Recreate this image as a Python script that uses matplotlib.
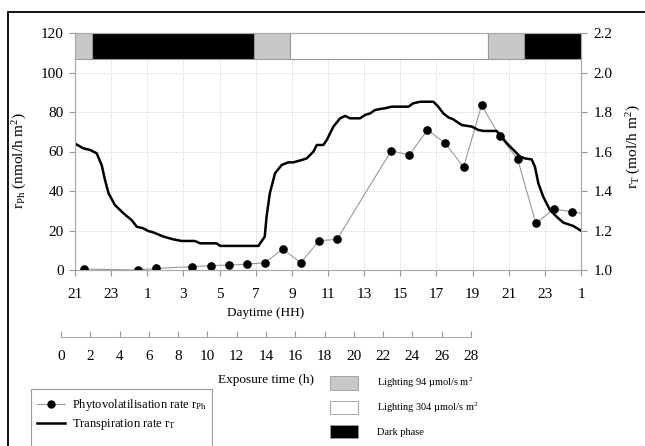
import numpy as np
import matplotlib.pyplot as plt
from matplotlib.patches import Rectangle, Patch
from matplotlib.lines import Line2D

plt.rcParams['font.family'] = 'Liberation Serif'
plt.rcParams['mathtext.fontset'] = 'custom'
plt.rcParams['mathtext.rm'] = 'Liberation Serif'
plt.rcParams['mathtext.it'] = 'Liberation Serif:italic'

# hours since 21:00
trans_t = [0, 0.46, 0.83, 1.2, 1.48, 1.66, 1.85, 2.2, 2.67, 3.13, 3.42, 3.78, 4.06, 4.32,
           4.9, 5.45, 5.9, 6.63, 6.93, 7.83, 8.03, 10.15, 10.5, 10.6, 10.78, 11.07, 11.44,
           11.8, 12.08, 12.55, 12.82, 13.19, 13.38, 13.74, 13.93, 14.3, 14.67, 14.95, 15.22,
           15.77, 16.05, 16.33, 16.6, 16.87, 17.16, 17.53, 18.45, 18.72, 19.1, 19.83, 20.1,
           20.38, 20.66, 20.93, 21.4, 21.96, 22.32, 22.6, 23.33, 23.61, 23.9, 24.26, 24.63,
           24.9, 25.27, 25.45, 25.64, 25.91, 26.28, 26.65, 27.02, 27.57, 28.0]
trans_rate = [1.64, 1.616, 1.608, 1.591, 1.53, 1.456, 1.39, 1.33, 1.288, 1.253, 1.219, 1.211,
              1.197, 1.191, 1.169, 1.155, 1.147, 1.147, 1.135, 1.135, 1.122, 1.122, 1.169,
              1.27, 1.388, 1.49, 1.532, 1.545, 1.545, 1.557, 1.565, 1.599, 1.633, 1.633,
              1.658, 1.726, 1.768, 1.78, 1.768, 1.768, 1.785, 1.793, 1.81, 1.815, 1.819,
              1.827, 1.827, 1.844, 1.852, 1.852, 1.827, 1.793, 1.773, 1.763, 1.734, 1.726,
              1.709, 1.704, 1.704, 1.675, 1.641, 1.608, 1.574, 1.565, 1.56, 1.523, 1.439,
              1.371, 1.304, 1.27, 1.24, 1.223, 1.199]

phyto_t = [0.5, 3.5, 4.5, 6.5, 7.5, 8.5, 9.5, 10.5, 11.5, 12.5, 13.5, 14.5, 17.5, 18.5,
           19.5, 20.5, 21.5, 22.5, 23.5, 24.5, 25.5, 26.5, 27.5, 28.5]
phyto_rate = [0.5, 0, 0.8, 1.7, 2.2, 2.5, 2.9, 3.7, 10.5, 3.7, 14.8, 15.5, 60.4, 58.2,
              70.9, 64.1, 52, 83.5, 67.8, 56, 23.6, 30.9, 29.5, 27.9]

# light phases (start, end, colour)
phase_start = [0, 0.92, 9.88, 11.9, 22.83, 24.83]
phase_end = [0.92, 9.88, 11.9, 22.83, 24.83, 28]
phase_col = ['#c8c8c8', 'black', '#c8c8c8', 'white', '#c8c8c8', 'black']

day_ticks = np.arange(0, 29, 2)
day_labels = ['21', '23', '1', '3', '5', '7', '9', '11', '13', '15', '17', '19', '21', '23', '1']
exp_ticks = np.arange(0, 29, 2)

W, H = 645, 446
fig = plt.figure(figsize=(6.45, 4.46), dpi=100)

ax = fig.add_axes([75/W, 1-270/H, 506/W, 237/H])
ax.set_xlim(0, 28)
ax.set_ylim(0, 120)
ax.set_yticks(np.arange(0, 121, 20))
ax.set_xticks(day_ticks)
ax.set_xticklabels(day_labels)
ax.grid(True, ls=':', color='#cccccc', lw=0.7)
ax.set_axisbelow(True)
for s in ax.spines.values():
    s.set_color('#aaaaaa')
    s.set_linewidth(0.8)
ax.tick_params(colors='#999999', labelcolor='black', labelsize=11, length=4, width=0.8)
ax.tick_params(axis='x', pad=9)
ax.tick_params(axis='y', pad=4)

ax.barh(113.5, [e - s for s, e in zip(phase_start, phase_end)], left=phase_start, height=13,
        color=phase_col, edgecolor='#999999', linewidth=0.8, zorder=3)

ax.plot(phyto_t, phyto_rate, color='#999999', lw=0.8, marker='o', ms=5.2,
        mfc='black', mec='black', zorder=4)
ax.set_ylabel(r'r$_{\mathrm{Ph}}$ (nmol/h m$^{2}$)', fontsize=11)
ax.yaxis.set_label_coords(-0.09, 0.46)

ax2 = ax.twinx()
ax2.set_ylim(1.0, 2.2)
ax2.set_yticks(np.arange(1.0, 2.21, 0.2))
ax2.set_yticklabels(['%.1f' % v for v in np.arange(1.0, 2.21, 0.2)])
for s in ax2.spines.values():
    s.set_color('#aaaaaa')
    s.set_linewidth(0.8)
ax2.tick_params(colors='#999999', labelcolor='black', labelsize=11, length=4, width=0.8, pad=5)
ax2.plot(trans_t, trans_rate, color='black', lw=1.8)
ax2.set_ylabel(r'r$_{\mathrm{T}}$ (mol/h m$^{2}$)', fontsize=11)
ax2.yaxis.set_label_coords(1.087, 0.52)

fig.text(266/W, 1-313/H, 'Daytime (HH)', ha='center', va='center', fontsize=9.5)

# exposure time axis
ax3 = fig.add_axes([61/W, 1-337/H, 410/W, 0.001])
ax3.set_xlim(0, 28)
ax3.set_xticks(exp_ticks)
ax3.set_yticks([])
for k in ['top', 'left', 'right']:
    ax3.spines[k].set_visible(False)
ax3.spines['bottom'].set_color('#aaaaaa')
ax3.spines['bottom'].set_linewidth(0.8)
ax3.patch.set_visible(False)
ax3.tick_params(axis='x', direction='in', colors='#999999', labelcolor='black',
                labelsize=11, length=4, width=0.8, pad=9.5)
fig.text(266/W, 1-380/H, 'Exposure time (h)', ha='center', va='center', fontsize=9.5)

# legends
h1 = Line2D([], [], color='#999999', lw=0.8, marker='o', ms=5, mfc='black', mec='black')
h2 = Line2D([], [], color='black', lw=1.8)
fig.legend([h1, h2], [r'Phytovolatilisation rate r$_{\mathrm{Ph}}$', r'Transpiration rate r$_{\mathrm{T}}$'],
           loc='upper left', bbox_to_anchor=(37/W, 1-397/H), frameon=False, fontsize=9,
           borderpad=0, borderaxespad=0, handlelength=2.2, handletextpad=0.6, labelspacing=0.35)
fig.patches.append(Rectangle((31/W, -0.05), 181/W, 0.05+1-389/H, transform=fig.transFigure,
                             fill=False, edgecolor='#999999', lw=0.8))

ph = [Patch(facecolor='#c8c8c8', edgecolor='#999999', lw=0.6),
      Patch(facecolor='white', edgecolor='#999999', lw=0.6),
      Patch(facecolor='black', edgecolor='#999999', lw=0.6)]
fig.legend(ph, ['Lighting 94 µmol/s m$^{2}$', 'Lighting 304 µmol/s m$^{2}$', 'Dark phase'],
           loc='upper left', bbox_to_anchor=(330/W, 1-376/H), frameon=False, fontsize=7.5,
           borderpad=0, borderaxespad=0, handlelength=2.7, handleheight=1.6,
           handletextpad=1.8, labelspacing=0.95)

fig.patches.append(Rectangle((8/W, -0.1), 1.2, 1.1-11.5/H, transform=fig.transFigure,
                             fill=False, edgecolor='black', lw=1.3))

fig.savefig('out.png', dpi=100)
